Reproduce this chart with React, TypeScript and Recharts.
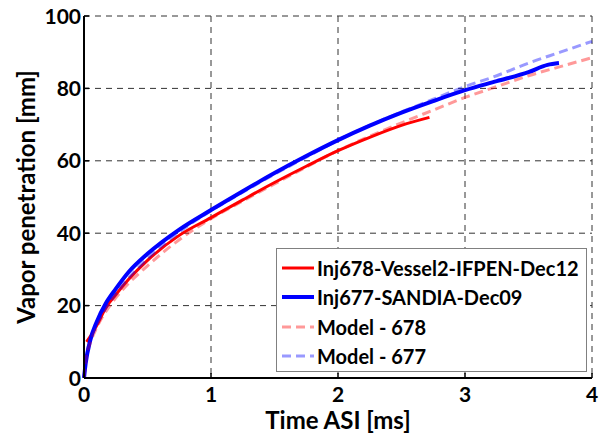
import React from "react";
import {
  LineChart,
  Line,
  XAxis,
  YAxis,
  CartesianGrid,
  Legend,
} from "recharts";

const exp678Time = [0.02, 0.05, 0.1, 0.17, 0.25, 0.35, 0.5, 0.75, 1, 1.25, 1.5, 1.75, 2, 2.25, 2.5, 2.72];
const exp678Pen = [10, 11.5, 14.5, 19.3, 23, 27.2, 32.5, 39.4, 44.3, 49.2, 54, 58.5, 62.8, 66.5, 69.8, 72];

const exp677Time = [0, 0.013, 0.05, 0.1, 0.17, 0.25, 0.35, 0.5, 0.75, 1, 1.25, 1.5, 1.75, 2, 2.25, 2.5, 2.75, 3, 3.25, 3.5, 3.65, 3.74];
const exp677Pen = [0, 4, 10.5, 15.5, 20.5, 24.6, 29.2, 34.3, 41, 46.4, 51.6, 56.6, 61.3, 65.7, 69.7, 73.3, 76.5, 79.5, 82, 84.5, 86.5, 87];

// model curves
const modelTime = [0, 0.02, 0.05, 0.1, 0.2, 0.3, 0.5, 0.75, 1, 1.25, 1.5, 1.75, 2, 2.25, 2.5, 2.75, 3, 3.25, 3.5, 3.75, 4];
const model678Pen = [0, 6.2, 9.8, 13.9, 19.8, 24.2, 31, 38.2, 44, 48.9, 53.6, 58.3, 62.8, 66.8, 70.5, 74, 77.5, 80.5, 83.5, 86, 88.5];
const model677Pen = [0, 6.6, 10.4, 14.7, 20.8, 25.5, 33, 40.3, 46.2, 51.3, 56.3, 61, 65.7, 69.8, 73.5, 77, 80.5, 83.5, 87, 90, 93];

const xTicks = [0, 1, 2, 3, 4];
const yTicks = [0, 20, 40, 60, 80, 100];

const zip = (t: number[], v: number[]) => t.map((x, i) => ({ t: x, y: v[i] }));

const SERIES = [
  { name: "Inj678-Vessel2-IFPEN-Dec12", data: zip(exp678Time, exp678Pen), color: "#ff0000", width: 3, dash: undefined, opacity: 1 },
  { name: "Inj677-SANDIA-Dec09", data: zip(exp677Time, exp677Pen), color: "#0000ff", width: 4, dash: undefined, opacity: 1 },
  { name: "Model - 678", data: zip(modelTime, model678Pen), color: "#ff0000", width: 3, dash: "9 5", opacity: 0.4 },
  { name: "Model - 677", data: zip(modelTime, model677Pen), color: "#0000ff", width: 3, dash: "9 5", opacity: 0.4 },
];

const FONT = "Lato, 'Open Sans', sans-serif";

const BottomTick = (p: any) => (
  <g>
    <line x1={p.x} x2={p.x} y1={p.y} y2={p.y - 5} stroke="#000" strokeWidth={1.5} />
    <text x={p.x} y={p.y + 24} textAnchor="middle" fontSize={21} fontWeight="bold" fontFamily={FONT} fill="#000">
      {p.payload.value}
    </text>
  </g>
);

const LeftTick = (p: any) => (
  <g>
    <line x1={p.x} x2={p.x + 5} y1={p.y} y2={p.y} stroke="#000" strokeWidth={1.5} />
    <text x={p.x - 3} y={p.y + 7.5} textAnchor="end" fontSize={21} fontWeight="bold" fontFamily={FONT} fill="#000">
      {p.payload.value}
    </text>
  </g>
);

const TopTick = (p: any) => (
  <line x1={p.x} x2={p.x} y1={p.y} y2={p.y + 5} stroke="#000" strokeWidth={1.5} />
);

const RightTick = (p: any) => (
  <line x1={p.x} x2={p.x - 5} y1={p.y} y2={p.y} stroke="#000" strokeWidth={1.5} />
);

const XTitle = () => (
  <text x={338} y={429} textAnchor="middle" fontSize={24} fontWeight="bold" fontFamily={FONT} fill="#000">
    Time ASI [ms]
  </text>
);

const YTitle = () => (
  <text transform="translate(35,197) rotate(-90)" textAnchor="middle" fontSize={24} fontWeight="bold" fontFamily={FONT} fill="#000">
    Vapor penetration [mm]
  </text>
);

const LegendBox = () => (
  <div
    style={{
      border: "1px solid #808080",
      background: "#fff",
      boxSizing: "border-box",
      width: 311,
      height: 124,
      padding: "4px 0 0 5px",
      fontFamily: FONT,
      fontWeight: "bold",
      fontSize: 20,
      color: "#000",
    }}
  >
    {SERIES.map((s) => (
      <div key={s.name} style={{ display: "flex", alignItems: "center", height: 29.5 }}>
        <svg width={32} height={10} style={{ marginRight: 3 }}>
          <line
            x1={0}
            x2={32}
            y1={5}
            y2={5}
            stroke={s.color}
            strokeOpacity={s.opacity}
            strokeWidth={s.width}
            strokeDasharray={s.dash}
          />
        </svg>
        <span>{s.name}</span>
      </div>
    ))}
  </div>
);

export default function App() {
  return (
    <div style={{ position: "absolute", left: 0, top: 0, background: "#fff" }}>
      <LineChart width={604} height={433} margin={{ top: 16, right: 12, left: 0, bottom: 0 }}>
        <CartesianGrid stroke="#333" strokeDasharray="6 5" strokeWidth={1} />
        <XAxis
          dataKey="t"
          type="number"
          domain={[0, 4]}
          ticks={xTicks}
          height={55}
          tickSize={0}
          tickMargin={0}
          tickLine={false}
          tick={BottomTick}
          axisLine={{ stroke: "#000", strokeWidth: 2 }}
          label={{ content: XTitle }}
        />
        <XAxis
          xAxisId="top"
          orientation="top"
          dataKey="t"
          type="number"
          domain={[0, 4]}
          ticks={xTicks}
          height={0}
          tickSize={0}
          tickMargin={0}
          tickLine={false}
          tick={TopTick}
          axisLine={{ stroke: "#000", strokeWidth: 2 }}
        />
        <YAxis
          type="number"
          domain={[0, 100]}
          ticks={yTicks}
          width={84}
          tickSize={0}
          tickMargin={0}
          tickLine={false}
          tick={LeftTick}
          axisLine={{ stroke: "#000", strokeWidth: 2 }}
          label={{ content: YTitle }}
        />
        <YAxis
          yAxisId="right"
          orientation="right"
          type="number"
          domain={[0, 100]}
          ticks={yTicks}
          width={0}
          tickSize={0}
          tickMargin={0}
          tickLine={false}
          tick={RightTick}
          axisLine={{ stroke: "#000", strokeWidth: 2 }}
        />
        {SERIES.map((s) => (
          <Line
            key={s.name}
            data={s.data}
            dataKey="y"
            name={s.name}
            type="monotone"
            stroke={s.color}
            strokeOpacity={s.opacity}
            strokeWidth={s.width}
            strokeDasharray={s.dash}
            dot={false}
            isAnimationActive={false}
          />
        ))}
        <Legend
          layout="horizontal"
          verticalAlign="middle"
          align="center"
          content={LegendBox}
          wrapperStyle={{ left: 276, top: 248, width: 311, height: 124 }}
        />
      </LineChart>
    </div>
  );
}
